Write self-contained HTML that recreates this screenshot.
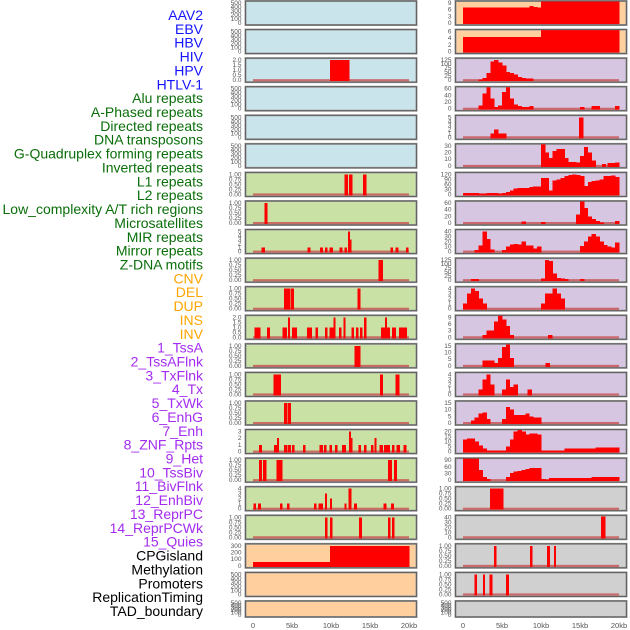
<!DOCTYPE html>
<html><head><meta charset="utf-8"><style>
html,body{margin:0;padding:0;background:#fff;}
svg{display:block;font-family:"Liberation Sans",sans-serif;}
</style></head><body>
<svg id="chart" width="630" height="630" viewBox="0 0 630 630" xmlns="http://www.w3.org/2000/svg"></svg>
<script>
// ---- data ----
const trackLabels = ["AAV2","EBV","HBV","HIV","HPV","HTLV-1","Alu repeats","A-Phased repeats","Directed repeats","DNA transposons","G-Quadruplex forming repeats","Inverted repeats","L1 repeats","L2 repeats","Low_complexity A/T rich regions","Microsatellites","MIR repeats","Mirror repeats","Z-DNA motifs","CNV","DEL","DUP","INS","INV","1_TssA","2_TssAFlnk","3_TxFlnk","4_Tx","5_TxWk","6_EnhG","7_Enh","8_ZNF_Rpts","9_Het","10_TssBiv","11_BivFlnk","12_EnhBiv","13_ReprPC","14_ReprPCWk","15_Quies","CPGisland","Methylation","Promoters","ReplicationTiming","TAD_boundary"];
const labelGroups = ["v","v","v","v","v","v","r","r","r","r","r","r","r","r","r","r","r","r","r","c","c","c","c","c","s","s","s","s","s","s","s","s","s","s","s","s","s","s","s","o","o","o","o","o"];
const xTickLabels = ["0","5kb","10kb","15kb","20kb"];
const xTickValues = [0,5,10,15,20];
const T500 = ["0","100","200","300","400","500"];
const T1 = ["0.00","0.25","0.50","0.75","1.00"];
const T2 = ["0.0","0.5","1.0","1.5","2.0"];
const panelTicks = [
 T500,T500,T2,T500,T500,T500,T1,T1,["0","1","2","3","4","5"],T1,T1,T2,T1,T1,T1,["0","1","2","3"],T1,["0","1","2","3","4"],T1,["0","100","200","300"],T500,T500,
 ["0","3","6","9"],["0","2","4","6"],["0","25","50","75","100","125"],["0","20","40","60"],["0","1","2","3","4","5"],["0","10","20","30"],["0","30","60","90","120"],["0","20","40","60"],["0","10","20","30","40"],["0","25","50","75","100","125"],["0","1","2","3","4"],["0","3","6","9"],["0","5","10","15"],["0","1","2","3","4"],["0","5","10","15"],["0","5","10","15","20"],["0","30","60","90"],T1,["0","10","20","30","40"],T1,T1,T500
];
const panelBg = ["b","b","b","b","b","b","g","g","g","g","g","g","g","g","g","g","g","g","g","o","o","o","o","o","p","p","p","p","p","p","p","p","p","p","p","p","p","p","p","y","y","y","y","y"];
const segsLeft = [
 [],[],[[9.9,12.3,2]],[],[],[],
 [[11.7,12.1,1],[12.3,12.7,1],[14.1,14.5,1]],
 [[1.5,1.8,1]],
 [[1.1,1.5,1],[7.0,7.3,1],[8.6,8.9,1],[9.2,9.5,1],[9.8,10.2,1],[11.1,11.4,1],[11.7,12.0,1],[12.2,12.4,5],[12.4,12.6,3],[17.6,17.9,1],[18.3,18.6,1],[19.6,19.9,1]],
 [[16.1,16.6,1]],
 [[4.0,4.75,1],[4.9,5.2,1],[13.4,13.7,1]],
 [[0.2,0.9,1],[1.8,2.1,1],[3.8,4.3,1],[4.5,4.7,2],[5.0,5.6,1],[6.9,7.5,1],[8.0,8.3,1],[9.2,9.5,1],[9.8,10.3,1],[10.3,10.5,2],[11.0,11.3,1],[11.6,11.8,2],[12.6,12.9,1],[13.2,13.5,1],[13.7,14.0,1],[14.2,14.5,2],[16.4,16.9,1],[16.9,17.1,2],[17.2,17.5,1],[17.8,18.3,1],[18.7,19.7,1]],
 [[13.0,13.7,1]],
 [[2.6,3.55,1],[16.3,16.6,1],[18.25,18.7,1]],
 [[4.0,4.3,1],[4.45,4.8,1]],
 [[0.8,1.1,1],[2.7,3.0,1],[3.1,3.3,2],[4.0,4.4,1],[4.5,4.8,1],[5.0,5.3,1],[6.4,6.7,1],[8.5,8.9,1],[9.1,9.4,1],[9.8,10.1,1],[10.5,10.8,1],[11.4,11.9,1],[12.3,12.5,3],[12.5,12.7,2],[13.5,13.8,1],[14.2,14.5,1],[15.1,15.4,1],[15.6,15.8,2],[16.2,16.6,1],[16.8,17.1,1],[17.2,17.5,1],[17.8,18.1,1],[18.4,18.8,1],[19.3,19.6,1]],
 [[0.8,1.1,1],[1.3,1.7,1],[3.0,3.7,1],[17.3,17.8,1],[18.1,18.4,1]],
 [[0.05,0.35,1],[0.65,0.95,1],[3.45,3.75,1],[4.35,4.65,1],[7.8,8.1,1],[8.4,8.9,1],[9.2,9.45,3],[9.85,10.1,2],[11.7,11.95,1],[12.25,12.6,4],[12.95,13.25,1],[16.75,17.05,1],[17.7,18.0,1]],
 [[9.2,9.5,1],[9.9,10.15,1],[13.6,13.9,1],[17.3,17.6,1],[17.8,18.1,1]],
 [[0,9.9,60],[9.9,20,300]],
 [],[]
];
const binsRight = [
 [[0,7],[0.5,7],[1,7],[1.5,7],[2,7],[2.5,7],[3,7],[3.5,7],[4,7],[4.5,7],[5,7],[5.5,7],[6,7],[6.5,7],[7,7],[7.5,7],[8,7],[8.5,7.6],[9,7.3],[9.5,7],[10,10],[10.5,10],[11,10],[11.5,10],[12,10],[12.5,11],[13,10],[13.5,10],[14,10],[14.5,10],[15,10],[15.5,10],[16,10],[16.5,10],[17,10],[17.5,10],[18,10],[18.5,10],[19,10],[19.5,10]],
 [[0,4.3],[0.5,4.3],[1,4.3],[1.5,4.3],[2,4.3],[2.5,4.3],[3,4.3],[3.5,4.3],[4,4.3],[4.5,4.3],[5,4.3],[5.5,4.3],[6,4.3],[6.5,4.3],[7,4.3],[7.5,4.3],[8,4.3],[8.5,4.3],[9,4.3],[9.5,4.3],[10,7],[10.5,7],[11,7],[11.5,7],[12,7],[12.5,7],[13,7],[13.5,7],[14,7],[14.5,7],[15,7],[15.5,7],[16,7],[16.5,7],[17,7],[17.5,7],[18,7],[18.5,7],[19,7],[19.5,7]],
 [[2,3],[2.5,12],[3,45],[3.5,115],[4,125],[4.5,110],[5,90],[5.5,50],[6,45],[6.5,35],[7,20],[7.5,12],[8,10],[8.5,10]],
 [[2,10],[2.5,45],[3,70],[3.5,30],[4,5],[4.5,10],[5,50],[5.5,65],[6,30],[6.5,12],[7,8],[7.5,5],[8,5],[8.5,8],[15,5],[16.5,8],[17,8],[19.5,8]],
 [[3.5,1],[4,2],[4.5,1],[5,1],[14.9,5]],
 [[10,35],[10.5,20],[11,12],[11.5,22],[12,25],[12.5,25],[13,12],[13.5,6],[14,6],[14.5,5],[15,15],[15.5,28],[16,20],[16.5,8],[17.8,3],[18.5,4],[19,4],[19.5,5]],
 [[0,10],[0.5,10],[1,10],[1.5,10],[2,5],[2.5,5],[3,8],[3.5,8],[4,8],[4.5,5],[5,10],[5.5,15],[6,25],[6.5,35],[7,38],[7.5,38],[8,40],[8.5,45],[9,48],[9.5,48],[10,100],[10.5,100],[11,25],[11.5,85],[12,90],[12.5,100],[13,110],[13.5,118],[14,120],[14.5,118],[15,110],[15.5,50],[16,75],[16.5,80],[17,85],[17.5,90],[18,110],[18.5,112],[19,115],[19.5,105]],
 [[7.5,5],[10,3],[14.5,25],[15,70],[15.5,45],[16,20],[16.5,12],[17,6],[17.5,2],[19.5,6]],
 [[1.5,3],[2,12],[2.5,40],[3,25],[3.5,4],[5,3],[5.5,10],[6,14],[6.5,15],[7,14],[7.5,20],[8,12],[8.5,12],[9,6],[9.5,10],[15,11],[15.5,20],[16,30],[16.5,35],[17,30],[17.5,20],[18,13],[18.5,10],[19,8],[19.5,18]],
 [[1,8],[1.5,8],[10,10],[10.5,125],[11,120],[11.5,40],[12,12],[12.5,10],[13,6],[15,8]],
 [[0,1],[0.5,3],[1,4],[1.5,3.5],[2,2],[2.5,1],[10,1],[10.5,3],[11,3],[11.5,4],[12,3],[12.5,2]],
 [[2.5,1],[3,3],[3.5,3],[4,7],[4.5,10],[5,8],[5.5,5],[6,1],[10.9,1]],
 [[2.5,4],[3,4],[3.5,4],[4,2],[4.5,6],[5,14],[5.5,16],[6,6],[10.6,2]],
 [[2,1],[2.5,3],[3,4],[3.5,2],[5,1],[5.5,3],[6,1.5],[6.5,2],[8.3,1]],
 [[1,2],[1.5,4],[2,7],[2.5,8],[3,3],[5,3],[5.5,12],[6,10],[6.5,6],[7,6],[7.5,6],[8,7],[8.5,5],[9,4],[9.5,4]],
 [[0,12],[0.5,13],[1,13],[1.5,10],[2,6],[2.5,3],[3,1],[3.5,1],[4,1],[4.5,1],[5,1],[5.5,5],[6,12],[6.5,20],[7,22],[7.5,20],[8,17],[8.5,18],[9,18],[9.5,17],[10,1],[10.5,1],[11,1],[11.5,1],[12,1],[12.5,1],[13,3],[13.5,3],[14,3],[14.5,3],[15,3],[15.5,3],[16,3],[16.5,3],[17,4],[17.5,4],[18,4],[18.5,4],[19,4],[19.5,4]],
 [[0,120],[0.5,118],[1,110],[1.5,105],[2,45],[2.5,15],[3,5],[5.5,15],[6,32],[6.5,38],[7,42],[7.5,45],[8,50],[8.5,55],[9,55],[9.5,55],[10,5],[10.5,3],[11,10],[11.5,10],[12,10],[12.5,10],[13,10],[13.5,10],[14,10],[14.5,10],[15,10],[15.5,10],[16,10],[16.5,14],[17,14],[17.5,14],[18,14],[18.5,14],[19,14],[19.5,14]],
 [],[],[],[],[]
];
const segsRight = [
 [],[],[],[],[],[],[],[],[],[],[],[],[],[],[],[],[],
 [[3.46,5.17,1]],
 [[17.7,18.2,42]],
 [[4.0,4.25,1],[8.6,8.85,1],[10.8,11.1,1],[11.65,11.85,1]],
 [[1.45,1.75,1],[2.55,2.8,1],[3.4,3.7,1],[5.5,5.85,1]],
 []
];
// ---- rendering ----
const NS = "http://www.w3.org/2000/svg";
const svg = document.getElementById("chart");
function mk(tag, attrs, parent){const e=document.createElementNS(NS,tag);for(const k in attrs)e.setAttribute(k,attrs[k]);(parent||svg).appendChild(e);return e;}
const labelColor = {v:"#1414ff",r:"#0a6e0a",c:"#ffa500",s:"#a32cf0",o:"#000"};
const bgColor = {b:"#c9e4eb",g:"#c9e1a5",o:"#ffd09d",p:"#d7c6e2",y:"#d0d0d0"};

trackLabels.forEach((t,i)=>{
  const el = mk("text",{x:203,y:15+i*13.86+5,"text-anchor":"end","font-size":"14",fill:labelColor[labelGroups[i]]});
  
  
  el.textContent = t;
});

const colX = [245.5, 455.5], colZero = [253, 463], kbPx = 7.8, panelW = 171;
function rowGeom(r){return {top: 1 + r*28.57, h: r===21 ? 16 : 24};}

for(let p=0;p<44;p++){
  const col = p<22?0:1, row = p%22;
  const g = rowGeom(row), x0 = colX[col];
  const xs = kb => colZero[col] + kb*kbPx;
  const ticks = panelTicks[p];
  const tmax = parseFloat(ticks[ticks.length-1]);
  const yZero = g.top + g.h - 2, yTop = g.top + 2;
  const ys = v => yZero - (v/tmax)*(yZero-yTop);
  const grp = mk("g",{});
  
  
  const bg = mk("rect",{x:x0,y:g.top,width:panelW,height:g.h,fill:bgColor[panelBg[p]],stroke:"#9a9a9a","stroke-width":"2"},grp);
  
  
  mk("rect",{x:x0,y:g.top,width:panelW,height:g.h,fill:"none",stroke:"#555","stroke-width":"0.8"},grp);
  ticks.forEach((t,i)=>{
    const v = parseFloat(t);
    const tl = mk("text",{x:x0-4,y:ys(v)+2,"text-anchor":"end","font-size":"6.5",fill:"#555"},grp);
    
    
    tl.textContent = t;
  });
  const empty = (p<22 ? segsLeft[row].length===0 : (binsRight[row].length===0 && segsRight[row].length===0));
  const clipId = "c"+p;
  const cp = mk("clipPath",{id:clipId},grp);
  mk("rect",{x:x0,y:g.top+0.5,width:panelW,height:g.h-1},cp);
  const marks = mk("g",{"clip-path":"url(#"+clipId+")"},grp);
  if(!empty){
    const bl = mk("rect",{x:xs(0),y:yZero-1,width:xs(20)-xs(0),height:2.2,fill:"#c85050",opacity:"0.8"},marks);
    
    
  }
  let segs = [];
  if(p<22) segs = segsLeft[row];
  else { segs = binsRight[row].map(b=>[b[0],b[0]+0.5,b[1]]).concat(segsRight[row]); }
  segs.forEach(s=>{
    const yv = ys(s[2]);
    const r = mk("rect",{x:xs(s[0]),y:yv,width:Math.max(xs(s[1])-xs(s[0])+0.4,1.5),height:Math.max(yZero+1-yv,0),fill:"#ff0000","shape-rendering":"crispEdges"},marks);
    
    
  });
  grp.appendChild(marks);
}
[0,1].forEach(col=>{
  xTickValues.forEach((v,i)=>{
    const t = mk("text",{x:colZero[col]+v*kbPx,y:628,"text-anchor":"middle","font-size":"7.5",fill:"#555"});
    
    
    t.textContent = xTickLabels[i];
  });
});
</script>
</body></html>
